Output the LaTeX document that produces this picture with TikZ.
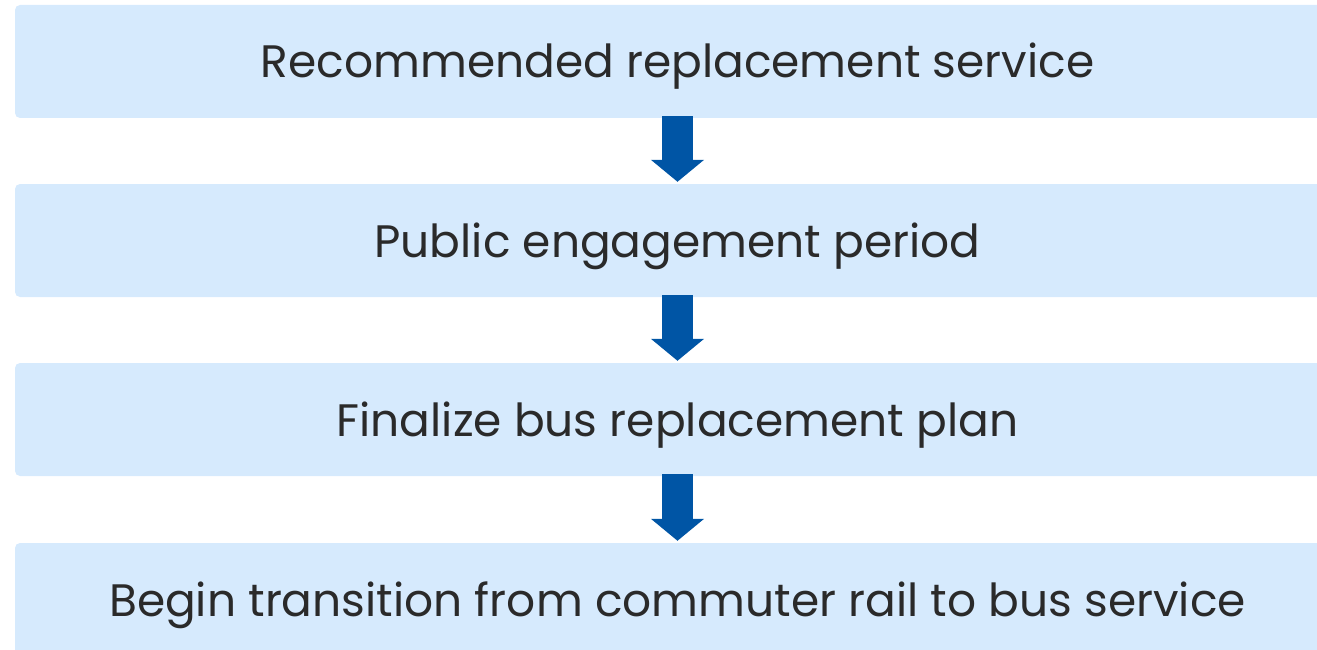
\documentclass[tikz,border=0pt]{standalone}
\usepackage{fontspec}
\setmainfont{Poppins}
\usetikzlibrary{arrows.meta}
\definecolor{boxblue}{RGB}{214,234,253}
\definecolor{arrowblue}{RGB}{0,85,165}
\definecolor{textgray}{RGB}{42,42,42}
\begin{document}
\begin{tikzpicture}[x=1pt, y=-1pt,
    every node/.style={fill=boxblue, text=textgray, rounded corners=5pt, minimum width=1325pt, minimum height=113pt, text height=33pt, text depth=0pt, font=\fontsize{45.5}{50}\selectfont},
    flow/.style={arrowblue, line width=31pt, -{Triangle[width=52pt, length=22pt]}, shorten <=-2pt, shorten >=2pt}]
            \clip (0,0) rectangle (1317,650);
            \node (rec) at (677.5,61.5) {Recommended replacement service};
            \node (pub) at (677.5,240.5) {Public engagement period};
            \node (fin) at (677.5,419.5) {Finalize bus replacement plan};
            \node (beg) at (677.5,599.5) {Begin transition from commuter rail to bus service};

            \draw[flow] (rec.south) to (pub.north);
            \draw[flow] (pub.south) to (fin.north);
            \draw[flow] (fin.south) to (beg.north);
\end{tikzpicture}
\end{document}
